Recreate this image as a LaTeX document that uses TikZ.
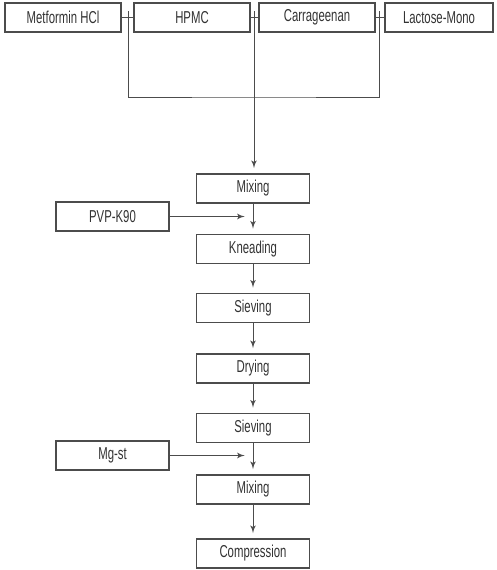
\documentclass[tikz,border=0pt]{standalone}
\usepackage{fontspec}
\setmainfont[FakeStretch=0.66]{Liberation Sans}
\usepackage{tikz}
\usetikzlibrary{arrows}

\begin{document}
\begin{tikzpicture}[x=0.02cm,y=-0.02cm]

\tikzset{box/.style = {shape=rectangle,draw=black!70,line width=0.8pt,minimum width=113*0.02cm,minimum height=29*0.02cm,inner sep=0pt,font=\fontsize{9.8pt}{11pt}\selectfont,text=black!80}}
\tikzset{edge/.style = {->,> = latex',draw=black!70,line width=0.5pt,shorten >=3pt}}
\tikzset{line/.style = {draw=black!70,line width=0.5pt}}
\useasboundingbox (0,0) rectangle (496,570);
% ingredients
\node[box,minimum width=116*0.02cm] (met) at (63,17.5) {Metformin HCl};
\node[box,minimum width=116*0.02cm] (hpmc) at (192,17.5) {HPMC};
\node[box,minimum width=116*0.02cm] (car) at (317,17.5) {Carrageenan};
\node[box,minimum width=108*0.02cm] (lac) at (439,17.5) {Lactose-Mono};
\coordinate (j1) at (128,17.5);
\coordinate (j2) at (254,17.5);
\coordinate (j3) at (379,17.5);
\coordinate (base) at (254,97);
% process
\node[box] (mixa) at (253,188.5) {Mixing};
\node[box] (knead) at (253,249) {Kneading};
\node[box] (sieva) at (253,308) {Sieving};
\node[box] (dry) at (253,368.5) {Drying};
\node[box] (sievb) at (253,428) {Sieving};
\node[box] (mixb) at (253,489.5) {Mixing};
\node[box] (comp) at (253,553.5) {Compression};
% additives
\node[box] (pvp) at (112.5,216.5) {PVP-K90};
\node[box] (mg) at (112.5,455.5) {Mg-st};
\coordinate (pin) at (250,216.5);
\coordinate (min) at (250,455.5);

\draw[line] (met) -- (hpmc);
\draw[line] (hpmc) -- (car);
\draw[line] (car) -- (lac);
\draw[line] (j1) ++(0,-6) -- ++(0,12);
\draw[line] (j2) ++(0,-6) -- ++(0,12);
\draw[line] (j3) ++(0,-6) -- ++(0,12);
\draw[line] (j1) |- (base) -| (j3);
\draw[edge] (j2) -- (mixa.north -| j2);
\draw[edge] (mixa) -- (knead);
\draw[edge] (knead) -- (sieva);
\draw[edge] (sieva) -- (dry);
\draw[edge] (dry) -- (sievb);
\draw[edge] (sievb) -- (mixb);
\draw[edge] (mixb) -- (comp);
\draw[edge] (pvp) -- (pin);
\draw[edge] (mg) -- (min);
\end{tikzpicture}
\end{document}
